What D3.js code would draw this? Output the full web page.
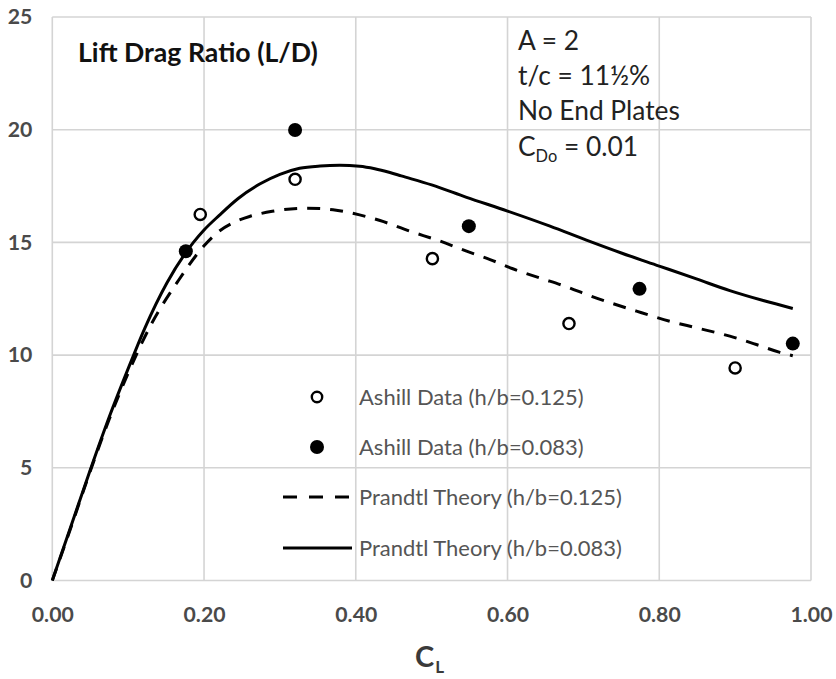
<!DOCTYPE html>
<html><head><meta charset="utf-8">
<script src="https://cdn.jsdelivr.net/npm/d3@7"></script>
<style>body{margin:0;background:#fff} svg{display:block}</style>
</head><body><svg id="c" width="836" height="679"></svg>
<script>
// ---------- data ----------
const xTicks = [0, 0.2, 0.4, 0.6, 0.8, 1.0];
const yTicks = [0, 5, 10, 15, 20, 25];

const ashillOpenCL = [0.195, 0.320, 0.501, 0.681, 0.900];
const ashillOpenLD = [16.24, 17.80, 14.28, 11.40, 9.43];

const ashillFilledCL = [0.176, 0.320, 0.549, 0.774, 0.976];
const ashillFilledLD = [14.61, 19.99, 15.72, 12.94, 10.51];

const prandtl125CL = [0, 0.025, 0.05, 0.075, 0.10, 0.129, 0.166, 0.200, 0.220, 0.240, 0.260, 0.290, 0.335, 0.370, 0.405, 0.432, 0.471, 0.511, 0.546, 0.577, 0.607, 0.642, 0.678, 0.708, 0.770, 0.814, 0.849, 0.893, 0.928, 0.959, 0.976];
const prandtl125LD = [0, 2.40, 4.85, 7.15, 9.20, 11.28, 13.30, 14.85, 15.50, 15.90, 16.15, 16.38, 16.52, 16.45, 16.22, 15.97, 15.50, 15.06, 14.61, 14.24, 13.83, 13.43, 13.03, 12.64, 11.95, 11.50, 11.21, 10.84, 10.47, 10.12, 9.97];

const prandtl083CL = [0, 0.025, 0.05, 0.075, 0.100, 0.122, 0.151, 0.186, 0.200, 0.220, 0.245, 0.274, 0.300, 0.326, 0.353, 0.379, 0.405, 0.425, 0.445, 0.460, 0.500, 0.546, 0.600, 0.656, 0.704, 0.750, 0.800, 0.849, 0.893, 0.937, 0.976];
const prandtl083LD = [0, 2.45, 4.90, 7.25, 9.40, 11.20, 13.20, 15.00, 15.55, 16.20, 16.95, 17.60, 18.02, 18.29, 18.39, 18.42, 18.38, 18.27, 18.10, 17.95, 17.55, 17.00, 16.39, 15.72, 15.10, 14.53, 13.95, 13.38, 12.86, 12.42, 12.07];

const legendLabels = ["Ashill Data (h/b=0.125)", "Ashill Data (h/b=0.083)", "Prandtl Theory (h/b=0.125)", "Prandtl Theory (h/b=0.083)"];
const chartTitle = "Lift Drag Ratio (L/D)";
const noteLines = ["A = 2", "t/c = 11½%", "No End Plates"];
const cdoNote = ["C", "Do", " = 0.01"];
const xTitle = ["C", "L"];

// ---------- layout ----------
const svg = d3.select("#c");
const L = 52.3, R = 811, T = 17, B = 580.5;
const x = d3.scaleLinear().domain([0, 1]).range([L, R]);
const y = d3.scaleLinear().domain([0, 25]).range([B, T]);
const FONT = "Lato, 'Open Sans', sans-serif";

function fit(sel, w) {
  const cur = sel.node().getComputedTextLength();
  const fs = parseFloat(sel.attr("font-size"));
  return fs * w / cur;
}

// gridlines
const grid = svg.append("g").attr("stroke", "#d4d4d4").attr("stroke-width", 1.6);
grid.selectAll("line.v").data(xTicks).join("line")
  .attr("x1", d => x(d)).attr("x2", d => x(d)).attr("y1", T).attr("y2", B);
grid.selectAll("line.h").data(yTicks).join("line")
  .attr("y1", d => y(d)).attr("y2", d => y(d)).attr("x1", L).attr("x2", R);

// axes (labels only)
const xAxis = svg.append("g").attr("transform", `translate(0,${B})`)
  .call(d3.axisBottom(x).tickValues(xTicks).tickFormat(d3.format(".2f")).tickSize(0).tickPadding(26));
const yAxis = svg.append("g").attr("transform", `translate(${L},0)`)
  .call(d3.axisLeft(y).tickValues(yTicks).tickFormat(d3.format("d")).tickSize(0).tickPadding(20));
svg.selectAll(".domain").remove();
svg.selectAll(".tick text").attr("font-family", FONT).attr("font-weight", "bold")
  .attr("fill", "#4a4a4a").attr("font-size", 18);
const tfs = fit(xAxis.select(".tick text"), 42);
svg.selectAll(".tick text").attr("font-size", tfs);

// curves
const line = d3.line().x(d => x(d[0])).y(d => y(d[1])).curve(d3.curveMonotoneX);
const dashedData = prandtl125CL.map((c, i) => [c, prandtl125LD[i]]);
const solidData = prandtl083CL.map((c, i) => [c, prandtl083LD[i]]);
svg.append("path").attr("d", line(dashedData)).attr("fill", "none")
  .attr("stroke", "#000").attr("stroke-width", 3).attr("stroke-dasharray", "13,10");
svg.append("path").attr("d", line(solidData)).attr("fill", "none")
  .attr("stroke", "#000").attr("stroke-width", 3);

// points
svg.append("g").selectAll("circle").data(ashillOpenCL.map((c, i) => [c, ashillOpenLD[i]])).join("circle")
  .attr("cx", d => x(d[0])).attr("cy", d => y(d[1])).attr("r", 5.6)
  .attr("fill", "#fff").attr("stroke", "#000").attr("stroke-width", 2.4);
svg.append("g").selectAll("circle").data(ashillFilledCL.map((c, i) => [c, ashillFilledLD[i]])).join("circle")
  .attr("cx", d => x(d[0])).attr("cy", d => y(d[1])).attr("r", 7).attr("fill", "#000");

// title
const title = svg.append("text").attr("x", 78).attr("y", 62).text(chartTitle)
  .attr("font-family", FONT).attr("font-weight", "bold").attr("font-size", 22).attr("fill", "#111");
title.attr("font-size", fit(title, 240));

// notes
const notesG = svg.append("g").attr("font-family", FONT).attr("fill", "#222");
const nt = notesG.selectAll("text.n").data(noteLines).join("text")
  .attr("x", 518).attr("y", (d, i) => 50 + i * 35).text(d => d).attr("font-size", 22);
const nfs = fit(nt.filter((d, i) => i === 2), 162);
nt.attr("font-size", nfs);
const cdo = notesG.append("text").attr("x", 518).attr("y", 156).attr("font-size", nfs);
cdo.append("tspan").text(cdoNote[0]);
cdo.append("tspan").text(cdoNote[1]).attr("font-size", nfs * 0.62).attr("dy", 6);
cdo.append("tspan").text(cdoNote[2]).attr("dy", -6);

// legend
const lg = svg.append("g");
const lgY = [397, 447, 497, 548];
lg.append("circle").attr("cx", 317).attr("cy", lgY[0]).attr("r", 5.2)
  .attr("fill", "#fff").attr("stroke", "#000").attr("stroke-width", 2.4);
lg.append("circle").attr("cx", 317).attr("cy", lgY[1]).attr("r", 7).attr("fill", "#000");
lg.append("line").attr("x1", 283).attr("x2", 352).attr("y1", lgY[2]).attr("y2", lgY[2])
  .attr("stroke", "#000").attr("stroke-width", 3).attr("stroke-dasharray", "14,12");
lg.append("line").attr("x1", 283).attr("x2", 352).attr("y1", lgY[3]).attr("y2", lgY[3])
  .attr("stroke", "#000").attr("stroke-width", 3);
const lt = lg.selectAll("text").data(legendLabels).join("text")
  .attr("x", 359).attr("y", (d, i) => lgY[i]).attr("dy", "0.35em").text(d => d)
  .attr("font-family", FONT).attr("fill", "#555").attr("font-size", 20);
const lfs = fit(lt.filter((d, i) => i === 2), 263);
lt.attr("font-size", lfs);

// x title
const xt = svg.append("text").attr("x", 415).attr("y", 667)
  .attr("font-family", FONT).attr("font-weight", "bold").attr("fill", "#3a3a3a").attr("font-size", 29);
xt.append("tspan").text(xTitle[0]);
xt.append("tspan").text(xTitle[1]).attr("font-size", 17).attr("dy", 6).attr("dx", 1);
</script>
</body></html>
